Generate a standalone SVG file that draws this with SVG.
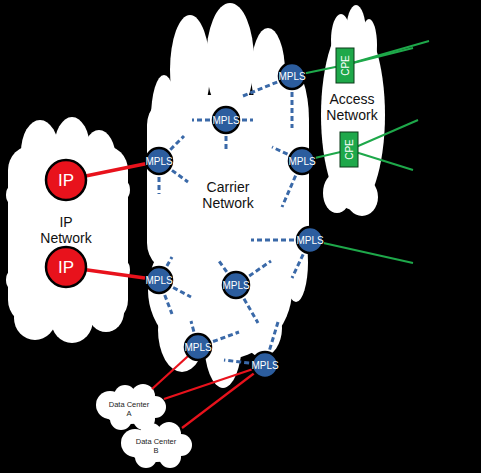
<svg xmlns="http://www.w3.org/2000/svg" width="481" height="473" viewBox="0 0 481 473">
<style>
.cloud{fill:#ffffff}
.lbl{font-family:"Liberation Sans",Arial,sans-serif;fill:#111111;text-anchor:middle}
.big{font-size:14px}
.dc{font-size:7.5px;fill:#222222}
.mpls circle{fill:#2c5d9e;stroke:#000000;stroke-width:2.5}
.mpls text{font-family:"Liberation Sans",Arial,sans-serif;font-size:10px;fill:#ffffff;text-anchor:middle}
.ip circle{fill:#e8121c;stroke:#000000;stroke-width:2.5}
.ip text{font-family:"Liberation Sans",Arial,sans-serif;font-size:17px;fill:#ffffff;text-anchor:middle}
.cpe rect{fill:#1ea84a;stroke:#0a3a18;stroke-width:1}
.cpe text{font-family:"Liberation Sans",Arial,sans-serif;font-size:10px;fill:#ffffff;text-anchor:middle}
.dash{stroke:#3a69a8;stroke-width:3;stroke-dasharray:5 3;fill:none}
.red{stroke:#e8121c;stroke-width:3.5;fill:none}
.redt{stroke:#e8121c;stroke-width:2.2;fill:none}
.green{stroke:#1ea84a;stroke-width:2;fill:none}
</style>
<rect x="0" y="0" width="481" height="473" fill="#000000"/>

<g id="carrier-network">
  <rect class="cloud" x="147" y="95" width="162" height="178" rx="30"/>
  <ellipse class="cloud" cx="220" cy="290" rx="72" ry="70"/>
  <ellipse class="cloud" cx="164" cy="118" rx="13" ry="43"/>
  <ellipse class="cloud" cx="190" cy="70" rx="20" ry="55"/>
  <ellipse class="cloud" cx="230" cy="60" rx="24" ry="57"/>
  <ellipse class="cloud" cx="268" cy="72" rx="17" ry="44"/>
  <ellipse class="cloud" cx="289" cy="120" rx="20" ry="55"/>
  <ellipse class="cloud" cx="296" cy="262" rx="12" ry="40"/>
  <ellipse class="cloud" cx="182" cy="330" rx="24" ry="42"/>
  <ellipse class="cloud" cx="223" cy="340" rx="19" ry="48"/>
  <ellipse class="cloud" cx="262" cy="328" rx="20" ry="29"/>
  <text class="lbl big" x="228" y="192">Carrier</text>
  <text class="lbl big" x="228" y="208">Network</text>
</g>

<g id="ip-network">
  <rect class="cloud" x="8" y="145" width="120" height="180" rx="25"/>
  <ellipse class="cloud" cx="40" cy="152" rx="19" ry="32"/>
  <ellipse class="cloud" cx="72" cy="149" rx="18" ry="32"/>
  <ellipse class="cloud" cx="99" cy="160" rx="17" ry="30"/>
  <circle class="cloud" cx="20" cy="195" r="14"/>
  <circle class="cloud" cx="20" cy="280" r="14"/>
  <circle class="cloud" cx="116" cy="190" r="14"/>
  <circle class="cloud" cx="116" cy="270" r="14"/>
  <ellipse class="cloud" cx="35" cy="318" rx="21" ry="22"/>
  <ellipse class="cloud" cx="72" cy="320" rx="21" ry="23"/>
  <ellipse class="cloud" cx="106" cy="312" rx="18" ry="20"/>
  <text class="lbl big" x="66" y="227">IP</text>
  <text class="lbl big" x="66" y="243">Network</text>
</g>

<g id="access-network">
  <ellipse class="cloud" cx="353" cy="115" rx="32" ry="95"/>
  <ellipse class="cloud" cx="341" cy="40" rx="10" ry="26"/>
  <ellipse class="cloud" cx="356" cy="33" rx="10" ry="28"/>
  <ellipse class="cloud" cx="369" cy="45" rx="8" ry="26"/>
  <ellipse class="cloud" cx="337" cy="193" rx="14" ry="20"/>
  <ellipse class="cloud" cx="362" cy="197" rx="16" ry="19"/>
  <text class="lbl big" x="352" y="104">Access</text>
  <text class="lbl big" x="352" y="120">Network</text>
</g>

<g id="data-center-a">
  <ellipse class="cloud" cx="130" cy="408" rx="30" ry="16"/>
  <circle class="cloud" cx="110" cy="405" r="14"/>
  <circle class="cloud" cx="125" cy="396" r="11"/>
  <circle class="cloud" cx="143" cy="396" r="12"/>
  <circle class="cloud" cx="155" cy="407" r="11"/>
  <circle class="cloud" cx="144" cy="419" r="11"/>
  <circle class="cloud" cx="121" cy="419" r="11"/>
  <text class="lbl dc" x="129" y="407">Data Center</text>
  <text class="lbl dc" x="129" y="416">A</text>
</g>

<g id="data-center-b">
  <ellipse class="cloud" cx="156" cy="446" rx="31" ry="16"/>
  <circle class="cloud" cx="135" cy="443" r="14"/>
  <circle class="cloud" cx="151" cy="434" r="11"/>
  <circle class="cloud" cx="169" cy="434" r="12"/>
  <circle class="cloud" cx="181" cy="445" r="11"/>
  <circle class="cloud" cx="170" cy="457" r="11"/>
  <circle class="cloud" cx="146" cy="457" r="11"/>
  <text class="lbl dc" x="156" y="444">Data Center</text>
  <text class="lbl dc" x="156" y="453">B</text>
</g>

<g id="connectors">
  <line class="dash" x1="292" y1="76" x2="243" y2="96"/>
  <line class="dash" x1="292" y1="76" x2="292" y2="128"/>
  <line class="dash" x1="226" y1="120" x2="192" y2="120"/>
  <line class="dash" x1="226" y1="120" x2="253" y2="120"/>
  <line class="dash" x1="226" y1="120" x2="226" y2="149"/>
  <line class="dash" x1="159" y1="161" x2="184" y2="136"/>
  <line class="dash" x1="159" y1="161" x2="188" y2="182"/>
  <line class="dash" x1="159" y1="161" x2="159" y2="194"/>
  <line class="dash" x1="302" y1="161" x2="272" y2="147"/>
  <line class="dash" x1="302" y1="161" x2="282" y2="207"/>
  <line class="dash" x1="310" y1="240" x2="251" y2="240"/>
  <line class="dash" x1="310" y1="240" x2="292" y2="278"/>
  <line class="dash" x1="159" y1="280" x2="172" y2="257"/>
  <line class="dash" x1="159" y1="280" x2="191" y2="297"/>
  <line class="dash" x1="159" y1="280" x2="172" y2="314"/>
  <line class="dash" x1="236" y1="285" x2="219" y2="261"/>
  <line class="dash" x1="236" y1="285" x2="271" y2="261"/>
  <line class="dash" x1="236" y1="285" x2="258" y2="323"/>
  <line class="dash" x1="198" y1="347" x2="191" y2="321"/>
  <line class="dash" x1="198" y1="347" x2="239" y2="332"/>
  <line class="dash" x1="265" y1="365" x2="224" y2="360"/>
  <line class="dash" x1="265" y1="365" x2="278" y2="322"/>

  <line class="red" x1="66" y1="180" x2="159" y2="161"/>
  <line class="red" x1="66" y1="267" x2="159" y2="280"/>
  <line class="redt" x1="198" y1="347" x2="152" y2="389"/>
  <line class="redt" x1="265" y1="365" x2="164" y2="399"/>
  <line class="redt" x1="265" y1="365" x2="182" y2="428"/>

  <line class="green" x1="292" y1="76" x2="345" y2="65"/>
  <line class="green" x1="345" y1="65" x2="429" y2="41"/>
  <line class="green" x1="345" y1="65" x2="413" y2="48"/>
  <line class="green" x1="302" y1="161" x2="349" y2="150"/>
  <line class="green" x1="349" y1="150" x2="418" y2="120"/>
  <line class="green" x1="349" y1="150" x2="413" y2="170"/>
  <line class="green" x1="310" y1="240" x2="413" y2="263"/>
</g>

<g id="ip-1" class="ip"><circle cx="66" cy="180" r="20"/><text x="66" y="186">IP</text></g>
<g id="ip-2" class="ip"><circle cx="66" cy="267" r="20"/><text x="66" y="273">IP</text></g>

<g id="cpe-1" class="cpe"><rect x="336" y="48" width="18" height="35"/><text transform="translate(348.5,65.5) rotate(-90)" x="0" y="0">CPE</text></g>
<g id="cpe-2" class="cpe"><rect x="340" y="132" width="18" height="35"/><text transform="translate(352.5,149.5) rotate(-90)" x="0" y="0">CPE</text></g>

<g id="mpls-1" class="mpls"><circle cx="292" cy="76" r="13"/><text x="292" y="79.5">MPLS</text></g>
<g id="mpls-2" class="mpls"><circle cx="226" cy="120" r="13"/><text x="226" y="123.5">MPLS</text></g>
<g id="mpls-3" class="mpls"><circle cx="159" cy="161" r="13"/><text x="159" y="164.5">MPLS</text></g>
<g id="mpls-4" class="mpls"><circle cx="302" cy="161" r="13"/><text x="302" y="164.5">MPLS</text></g>
<g id="mpls-5" class="mpls"><circle cx="310" cy="240" r="13"/><text x="310" y="243.5">MPLS</text></g>
<g id="mpls-6" class="mpls"><circle cx="159" cy="280" r="13"/><text x="159" y="283.5">MPLS</text></g>
<g id="mpls-7" class="mpls"><circle cx="236" cy="285" r="13"/><text x="236" y="288.5">MPLS</text></g>
<g id="mpls-8" class="mpls"><circle cx="198" cy="347" r="13"/><text x="198" y="350.5">MPLS</text></g>
<g id="mpls-9" class="mpls"><circle cx="265" cy="365" r="13"/><text x="265" y="368.5">MPLS</text></g>
</svg>
